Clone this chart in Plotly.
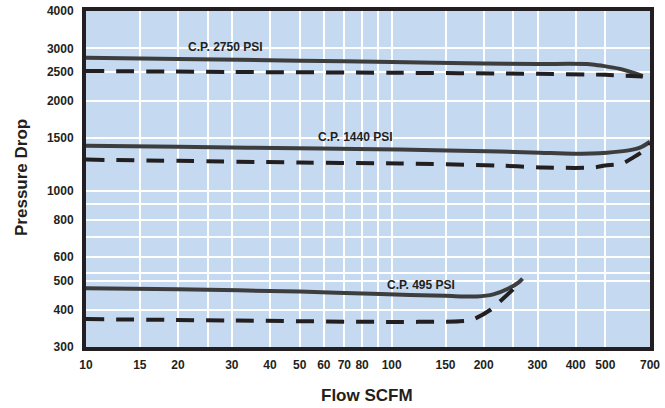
import math
import plotly.graph_objects as go

# ---- data ----
x_ticks = [10, 15, 20, 30, 40, 50, 60, 70, 80, 100, 150, 200, 300, 400, 500, 700]
x_minor_grid = [25, 90, 250]
y_ticks = [300, 400, 500, 600, 800, 1000, 1500, 2000, 2500, 3000, 4000]
y_minor_grid = [530, 700, 900]

cp2750_solid_x = [10, 20, 50, 100, 200, 300, 445, 491, 558, 615, 663]
cp2750_solid_y = [2790, 2765, 2725, 2700, 2670, 2660, 2655, 2620, 2560, 2485, 2420]
cp2750_dash_x = [10, 30, 100, 300, 500, 663]
cp2750_dash_y = [2520, 2500, 2485, 2465, 2445, 2415]

cp1440_solid_x = [10, 20, 58, 106, 226, 305, 392, 506, 589, 649, 700]
cp1440_solid_y = [1416, 1405, 1385, 1375, 1353, 1342, 1332, 1342, 1363, 1395, 1460]
cp1440_dash_x = [10, 50, 106, 226, 313, 455, 499, 567, 616, 689, 700]
cp1440_dash_y = [1272, 1244, 1234, 1215, 1197, 1197, 1215, 1234, 1292, 1395, 1440]

cp495_solid_x = [10, 20, 50, 92, 150, 190, 215, 240, 261, 268]
cp495_solid_y = [472, 468, 460, 451, 445, 443, 450, 470, 495, 508]
cp495_dash_x = [10, 30, 100, 167, 183, 210, 223, 248, 255]
cp495_dash_y = [372, 368, 364, 366, 370, 399, 421, 465, 479]

curve_labels = ["C.P. 2750 PSI", "C.P. 1440 PSI", "C.P. 495 PSI"]
label_x = [28.7, 75.9, 124.7]
label_y = [3027, 1514, 484]

x_title = "Flow SCFM"
y_title = "Pressure Drop"

# ---- styles ----
DARK = "#231f20"
SOLID = "#3d3d3d"
BG = "#c5d9f1"

fig = go.Figure()

def add_curve(xs, ys, dashed):
    fig.add_trace(go.Scatter(
        x=xs, y=ys, mode="lines",
        line=dict(color=DARK if dashed else SOLID, width=4,
                  dash="18px,12px" if dashed else "solid",
                  shape="spline", smoothing=0.8),
        hoverinfo="skip", showlegend=False))

add_curve(cp2750_solid_x, cp2750_solid_y, False)
add_curve(cp2750_dash_x, cp2750_dash_y, True)
add_curve(cp1440_solid_x, cp1440_solid_y, False)
add_curve(cp1440_dash_x, cp1440_dash_y, True)
add_curve(cp495_solid_x, cp495_solid_y, False)
add_curve(cp495_dash_x, cp495_dash_y, True)

annos = []
for t, lx, ly in zip(curve_labels, label_x, label_y):
    annos.append(dict(x=math.log10(lx), y=math.log10(ly), xref="x", yref="y",
                      text=t, showarrow=False,
                      font=dict(family="Liberation Sans", size=12, color=DARK, weight="bold")))
annos.append(dict(x=0.498, y=-0.143, xref="paper", yref="paper", text=x_title,
                  showarrow=False, xanchor="center", yanchor="middle",
                  font=dict(family="Liberation Sans", size=17, color=DARK, weight="bold")))
annos.append(dict(x=-0.1135, y=0.506, xref="paper", yref="paper", text=y_title,
                  showarrow=False, xanchor="center", yanchor="middle", textangle=-90,
                  font=dict(family="Liberation Sans", size=17, color=DARK, weight="bold")))

tickfont = dict(family="Liberation Sans", size=12, color=DARK, weight="bold")

fig.update_layout(
    width=665, height=408,
    margin=dict(l=86, r=15, t=11, b=61, autoexpand=False),
    paper_bgcolor="white", plot_bgcolor=BG,
    annotations=annos,
    xaxis=dict(type="log", range=[math.log10(10), math.log10(700)], automargin=False,
               tickvals=x_ticks, ticktext=[str(v) for v in x_ticks],
               tickfont=tickfont, ticks="", showgrid=True, gridcolor="white", gridwidth=1.5,
               minor=dict(tickvals=x_minor_grid, showgrid=True, gridcolor="white", gridwidth=1.5, ticks=""),
               showline=True, linewidth=4, linecolor=DARK, mirror=True, zeroline=False,
               ticklabelstandoff=4, fixedrange=True),
    yaxis=dict(type="log", range=[math.log10(300), math.log10(4000)], automargin=False,
               tickvals=y_ticks, ticktext=[str(v) for v in y_ticks],
               tickfont=tickfont, ticks="", showgrid=True, gridcolor="white", gridwidth=1.5,
               minor=dict(tickvals=y_minor_grid, showgrid=True, gridcolor="white", gridwidth=1.5, ticks=""),
               showline=True, linewidth=4, linecolor=DARK, mirror=True, zeroline=False,
               ticklabelstandoff=6, fixedrange=True),
)

fig.write_html("out.html", config={"displayModeBar": False},
               post_script="document.body.style.margin='0';document.body.style.overflow='hidden';")
